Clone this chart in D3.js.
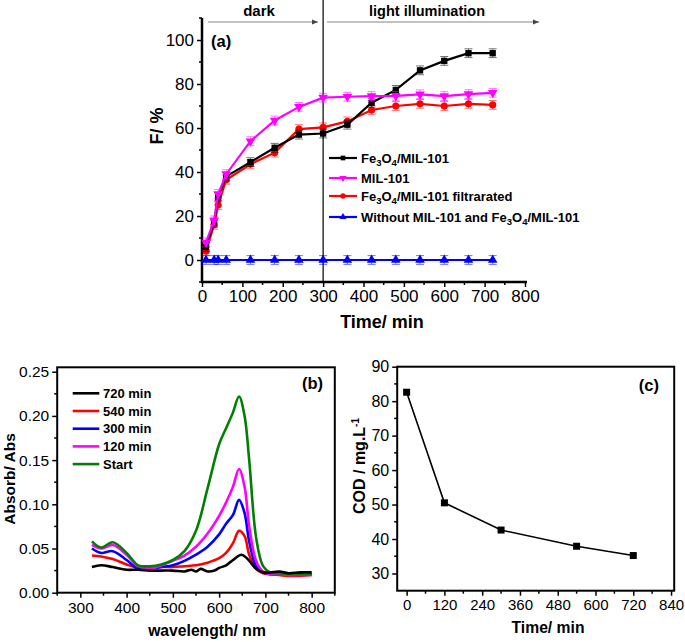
<!DOCTYPE html>
<html><head><meta charset="utf-8">
<script src="https://cdn.jsdelivr.net/npm/d3@7"></script>
<style>
body{margin:0;background:#fff;}
svg{display:block;font-family:"Liberation Sans",Arial,sans-serif;}
</style></head>
<body>
<script>
// ---------- Panel (a) data ----------
const timeA = [10, 30, 40, 60, 120, 180, 240, 300, 360, 420, 480, 540, 600, 660, 720];
const fe3o4 = [6, 17, 28.5, 38, 44.5, 51, 57, 57.5, 61.5, 71.5, 77.3, 86.2, 90.5, 94, 94];
const mil101 = [8, 18, 30, 39, 54, 63.4, 69.6, 73.8, 74.2, 74.5, 74.6, 75.3, 74.5, 75.4, 76];
const filtrated = [4, 16, 25, 36.5, 43.5, 48.8, 59.5, 60.3, 63, 68.2, 70, 71, 70, 71, 70.5];
const blank = [0, 0, 0, 0, 0, 0, 0, 0, 0, 0, 0, 0, 0, 0, 0];
const errA = 2;
const ticksAx = [0, 100, 200, 300, 400, 500, 600, 700, 800];
const ticksAy = [0, 20, 40, 60, 80, 100];

// ---------- Panel (b) data ----------
const wl = [325, 345, 370, 400, 425, 450, 475, 500, 525, 550, 575, 600, 615, 630, 643, 655, 665, 680, 695, 710, 730, 750, 775, 800];
const absStart = [0.058, 0.051, 0.057, 0.045, 0.031, 0.030, 0.032, 0.037, 0.047, 0.070, 0.118, 0.168, 0.186, 0.204, 0.222, 0.200, 0.150, 0.062, 0.030, 0.023, 0.022, 0.021, 0.021, 0.021];
const abs120 = [0.054, 0.050, 0.054, 0.043, 0.030, 0.027, 0.031, 0.036, 0.042, 0.052, 0.067, 0.087, 0.102, 0.120, 0.140, 0.120, 0.075, 0.036, 0.024, 0.021, 0.021, 0.020, 0.020, 0.020];
const abs300 = [0.050, 0.045, 0.047, 0.037, 0.027, 0.027, 0.029, 0.031, 0.036, 0.043, 0.052, 0.066, 0.078, 0.088, 0.105, 0.090, 0.058, 0.030, 0.023, 0.021, 0.021, 0.021, 0.021, 0.021];
const abs540 = [0.042, 0.041, 0.038, 0.032, 0.028, 0.028, 0.029, 0.029, 0.030, 0.031, 0.034, 0.039, 0.045, 0.056, 0.070, 0.064, 0.043, 0.027, 0.022, 0.021, 0.020, 0.019, 0.019, 0.020];
const wlBlack = [325, 345, 370, 400, 425, 450, 475, 500, 525, 540, 550, 560, 575, 590, 600, 615, 630, 648, 660, 670, 680, 695, 710, 730, 750, 775, 800];
const abs720 = [0.029, 0.031, 0.029, 0.026, 0.026, 0.025, 0.025, 0.025, 0.024, 0.026, 0.024, 0.027, 0.024, 0.025, 0.028, 0.031, 0.037, 0.043, 0.039, 0.033, 0.027, 0.023, 0.023, 0.024, 0.022, 0.023, 0.023];
const ticksBx = [300, 400, 500, 600, 700, 800];
const ticksBy = [0, 0.05, 0.10, 0.15, 0.20, 0.25];

// ---------- Panel (c) data ----------
const timeC = [0, 120, 300, 540, 720];
const cod = [82.6, 50.5, 42.6, 37.9, 35.2];
const ticksCx = [0, 120, 240, 360, 480, 600, 720, 840];
const ticksCy = [30, 40, 50, 60, 70, 80, 90];

const svg = d3.select("body").append("svg").attr("width", 685).attr("height", 642);

function addMinor(g, scale, vals, orient, len) {
  vals.forEach(v => {
    const p = scale(v);
    if (orient === "left") g.append("line").attr("x1", 0).attr("x2", -len).attr("y1", p).attr("y2", p);
    else g.append("line").attr("y1", 0).attr("y2", len).attr("x1", p).attr("x2", p);
  });
  g.selectAll("line").attr("stroke", "#000").attr("stroke-width", 1.5);
}

// ================= Panel (a) =================
{
  const x = d3.scaleLinear().domain([0, 800]).range([202, 525]);
  const y = d3.scaleLinear().domain([-10, 110]).range([282, 18]);
  const g = svg.append("g");

  const gx = g.append("g").attr("transform", "translate(0,282)")
    .call(d3.axisBottom(x).tickValues(ticksAx).tickSize(5).tickSizeOuter(0).tickPadding(3));
  gx.select(".domain").attr("stroke-width", 2.5).attr("d", `M${x(0)-1},0H${x(800)+2}`);
  gx.selectAll(".tick line").attr("stroke-width", 1.5);
  gx.selectAll("text").attr("font-size", 17).attr("font-family", "Liberation Sans, Arial, sans-serif");
  addMinor(gx.append("g"), x, d3.range(50, 800, 100), "bottom", 3);

  const gy = g.append("g").attr("transform", "translate(202,0)")
    .call(d3.axisLeft(y).tickValues(ticksAy).tickSize(5).tickSizeOuter(0).tickPadding(3));
  gy.select(".domain").attr("stroke-width", 2.5).attr("d", `M0,${y(-10)+1}V${y(110)}`);
  gy.selectAll(".tick line").attr("stroke-width", 1.5);
  gy.selectAll("text").attr("font-size", 17).attr("font-family", "Liberation Sans, Arial, sans-serif");
  addMinor(gy.append("g"), y, [-10, 10, 30, 50, 70, 90, 110], "left", 3);

  g.append("line").attr("x1", x(300)).attr("x2", x(300)).attr("y1", 0).attr("y2", 281)
    .attr("stroke", "#000").attr("stroke-width", 1.2);

  const defs = svg.append("defs");
  defs.append("marker").attr("id", "arr").attr("viewBox", "0 0 10 10").attr("refX", 10).attr("refY", 5)
    .attr("markerWidth", 8).attr("markerHeight", 6).attr("orient", "auto").attr("markerUnits", "userSpaceOnUse")
    .append("path").attr("d", "M0,1L10,5L0,9Z").attr("fill", "#444");
  g.append("line").attr("x1", 208).attr("x2", 318).attr("y1", 22).attr("y2", 22)
    .attr("stroke", "#666").attr("stroke-width", 0.8).attr("marker-end", "url(#arr)");
  g.append("line").attr("x1", 327).attr("x2", 539).attr("y1", 22).attr("y2", 22)
    .attr("stroke", "#666").attr("stroke-width", 0.8).attr("marker-end", "url(#arr)");
  g.append("text").attr("x", 259).attr("y", 16).attr("text-anchor", "middle")
    .attr("font-size", 15).attr("font-weight", "bold").text("dark");
  g.append("text").attr("x", 427).attr("y", 16).attr("text-anchor", "middle")
    .attr("font-size", 14.5).attr("font-weight", "bold").text("light illumination");
  g.append("text").attr("x", 211).attr("y", 47).attr("font-size", 16.5).attr("font-weight", "bold").text("(a)");

  g.append("text").attr("x", 382).attr("y", 328).attr("text-anchor", "middle")
    .attr("font-size", 18).attr("font-weight", "bold").text("Time/ min");
  g.append("text").attr("transform", "translate(163,126) rotate(-90)").attr("text-anchor", "middle")
    .attr("font-size", 18).attr("font-weight", "bold").text("F/ %");

  const series = [
    {vals: blank, color: "#0000ff", sym: d3.symbolTriangle, rot: 0},
    {vals: filtrated, color: "#ff0000", sym: d3.symbolCircle, rot: 0},
    {vals: fe3o4, color: "#000000", sym: d3.symbolSquare, rot: 0},
    {vals: mil101, color: "#ff00ff", sym: d3.symbolTriangle, rot: 180}
  ];
  const line = d3.line().x((d, i) => x(timeA[i])).y(d => y(d));
  series.forEach(s => {
    const sg = g.append("g");
    timeA.forEach((t, i) => {
      const cx = x(t), y1 = y(s.vals[i] - errA), y2 = y(s.vals[i] + errA);
      const eb = sg.append("g").attr("stroke", s.color).attr("stroke-width", 1).attr("opacity", 0.55);
      eb.append("line").attr("x1", cx).attr("x2", cx).attr("y1", y1).attr("y2", y2);
      eb.append("line").attr("x1", cx - 4).attr("x2", cx + 4).attr("y1", y1).attr("y2", y1);
      eb.append("line").attr("x1", cx - 4).attr("x2", cx + 4).attr("y1", y2).attr("y2", y2);
    });
    sg.append("path").attr("d", line(s.vals)).attr("fill", "none").attr("stroke", s.color).attr("stroke-width", 2.2);
    const sym = d3.symbol().type(s.sym).size(s.sym === d3.symbolCircle ? 40 : 40);
    timeA.forEach((t, i) => {
      sg.append("path").attr("d", sym()).attr("fill", s.color)
        .attr("transform", `translate(${x(t)},${y(s.vals[i])}) rotate(${s.rot})`);
    });
  });

  const leg = [
    {color: "#000000", sym: d3.symbolSquare, rot: 0, parts: [["Fe", 0], ["3", 1], ["O", 0], ["4", 1], ["/MIL-101", 0]], y: 158},
    {color: "#ff00ff", sym: d3.symbolTriangle, rot: 180, parts: [["MIL-101", 0]], y: 178},
    {color: "#ff0000", sym: d3.symbolCircle, rot: 0, parts: [["Fe", 0], ["3", 1], ["O", 0], ["4", 1], ["/MIL-101 filtrarated", 0]], y: 196},
    {color: "#0000ff", sym: d3.symbolTriangle, rot: 0, parts: [["Without MIL-101 and Fe", 0], ["3", 1], ["O", 0], ["4", 1], ["/MIL-101", 0]], y: 217}
  ];
  leg.forEach(l => {
    g.append("line").attr("x1", 329).attr("x2", 357).attr("y1", l.y).attr("y2", l.y)
      .attr("stroke", l.color).attr("stroke-width", 2.2);
    g.append("path").attr("d", d3.symbol().type(l.sym).size(22)()).attr("fill", l.color)
      .attr("transform", `translate(343,${l.y}) rotate(${l.rot})`);
    const t = g.append("text").attr("x", 361).attr("y", l.y + 4.5).attr("font-size", 13).attr("font-weight", "bold");
    l.parts.forEach((p, i) => {
      const prev = i > 0 ? l.parts[i - 1][1] : 0;
      const ts = t.append("tspan").text(p[0]);
      if (p[1]) ts.attr("font-size", 9.5);
      ts.attr("dy", p[1] && !prev ? 3 : (!p[1] && prev ? -3 : 0));
    });
  });
}

// ================= Panel (b) =================
{
  const x = d3.scaleLinear().domain([250, 850]).range([57.2, 334.8]);
  const y = d3.scaleLinear().domain([0, 0.255]).range([592.7, 367.3]);
  const g = svg.append("g");

  const gx = g.append("g").attr("transform", "translate(0,592.7)")
    .call(d3.axisBottom(x).tickValues(ticksBx).tickSize(5).tickSizeOuter(0).tickPadding(4));
  gx.select(".domain").remove();
  gx.selectAll(".tick line").attr("stroke-width", 1.5);
  gx.selectAll("text").attr("font-size", 15.5).attr("font-family", "Liberation Sans, Arial, sans-serif");
  addMinor(gx.append("g"), x, [250, 350, 450, 550, 650, 750, 850], "bottom", 3);

  const gy = g.append("g").attr("transform", "translate(57.2,0)")
    .call(d3.axisLeft(y).tickValues(ticksBy).tickFormat(d3.format(".2f")).tickSize(5).tickSizeOuter(0).tickPadding(3));
  gy.select(".domain").remove();
  gy.selectAll(".tick line").attr("stroke-width", 1.5);
  gy.selectAll("text").attr("font-size", 15.5).attr("font-family", "Liberation Sans, Arial, sans-serif");
  addMinor(gy.append("g"), y, [0.025, 0.075, 0.125, 0.175, 0.225], "left", 3);

  g.append("rect").attr("x", 57.2).attr("y", 367.3).attr("width", 334.8 - 57.2).attr("height", 592.7 - 367.3)
    .attr("fill", "none").attr("stroke", "#000").attr("stroke-width", 2);

  const line = d3.line().curve(d3.curveCatmullRom.alpha(0.5));
  const specs = [
    {w: wl, a: abs540, color: "#ff0000"},
    {w: wl, a: abs300, color: "#0000ff"},
    {w: wl, a: abs120, color: "#ff00ff"},
    {w: wl, a: absStart, color: "#008000"},
    {w: wlBlack, a: abs720, color: "#000000"}
  ];
  specs.forEach(s => {
    g.append("path").attr("d", line(s.w.map((w, i) => [x(w), y(s.a[i])])))
      .attr("fill", "none").attr("stroke", s.color).attr("stroke-width", 2.6).attr("stroke-linejoin", "round");
  });

  const leg = [["720 min", "#000000"], ["540 min", "#ff0000"], ["300 min", "#0000ff"], ["120 min", "#ff00ff"], ["Start", "#008000"]];
  leg.forEach((l, i) => {
    const yy = 393.3 + i * 17.7;
    g.append("line").attr("x1", 72.7).attr("x2", 99.3).attr("y1", yy).attr("y2", yy)
      .attr("stroke", l[1]).attr("stroke-width", 2.6);
    g.append("text").attr("x", 103).attr("y", yy + 4.5).attr("font-size", 13).attr("font-weight", "bold").text(l[0]);
  });
  g.append("text").attr("x", 323).attr("y", 389).attr("text-anchor", "end").attr("font-size", 16.5).attr("font-weight", "bold").text("(b)");

  g.append("text").attr("x", 207).attr("y", 636).attr("text-anchor", "middle")
    .attr("font-size", 15.7).attr("font-weight", "bold").text("wavelength/ nm");
  g.append("text").attr("transform", "translate(15,479) rotate(-90)").attr("text-anchor", "middle")
    .attr("font-size", 15.5).attr("font-weight", "bold").text("Absorb/ Abs");
}

// ================= Panel (c) =================
{
  const x = d3.scaleLinear().domain([-30, 850]).range([397.2, 674.2]);
  const y = d3.scaleLinear().domain([25, 90]).range([590.7, 366.7]);
  const g = svg.append("g");

  const gx = g.append("g").attr("transform", "translate(0,590.7)")
    .call(d3.axisBottom(x).tickValues(ticksCx).tickSize(5).tickSizeOuter(0).tickPadding(4));
  gx.select(".domain").remove();
  gx.selectAll(".tick line").attr("stroke-width", 1.5);
  gx.selectAll("text").attr("font-size", 15).attr("font-family", "Liberation Sans, Arial, sans-serif");
  addMinor(gx.append("g"), x, [60, 180, 300, 420, 540, 660, 780], "bottom", 3);

  const gy = g.append("g").attr("transform", "translate(397.2,0)")
    .call(d3.axisLeft(y).tickValues(ticksCy).tickSize(5).tickSizeOuter(0).tickPadding(3));
  gy.select(".domain").remove();
  gy.selectAll(".tick line").attr("stroke-width", 1.5);
  gy.selectAll("text").attr("font-size", 16).attr("font-family", "Liberation Sans, Arial, sans-serif");
  addMinor(gy.append("g"), y, [35, 45, 55, 65, 75, 85], "left", 3);

  g.append("rect").attr("x", 397.2).attr("y", 366.7).attr("width", 674.2 - 397.2).attr("height", 590.7 - 366.7)
    .attr("fill", "none").attr("stroke", "#000").attr("stroke-width", 2);

  const line = d3.line().x((d, i) => x(timeC[i])).y(d => y(d));
  g.append("path").attr("d", line(cod)).attr("fill", "none").attr("stroke", "#000").attr("stroke-width", 1.6);
  timeC.forEach((t, i) => {
    g.append("rect").attr("x", x(t) - 3.5).attr("y", y(cod[i]) - 3.5).attr("width", 7).attr("height", 7).attr("fill", "#000");
  });

  g.append("text").attr("x", 659).attr("y", 391).attr("text-anchor", "end").attr("font-size", 16.5).attr("font-weight", "bold").text("(c)");
  g.append("text").attr("x", 548).attr("y", 633).attr("text-anchor", "middle")
    .attr("font-size", 15.7).attr("font-weight", "bold").text("Time/ min");
  const yt = g.append("text").attr("transform", "translate(365,466) rotate(-90)").attr("text-anchor", "middle")
    .attr("font-size", 16).attr("font-weight", "bold");
  yt.append("tspan").text("COD / mg.L");
  yt.append("tspan").text("-1").attr("font-size", 10).attr("dy", -6);
}
</script>
</body></html>
